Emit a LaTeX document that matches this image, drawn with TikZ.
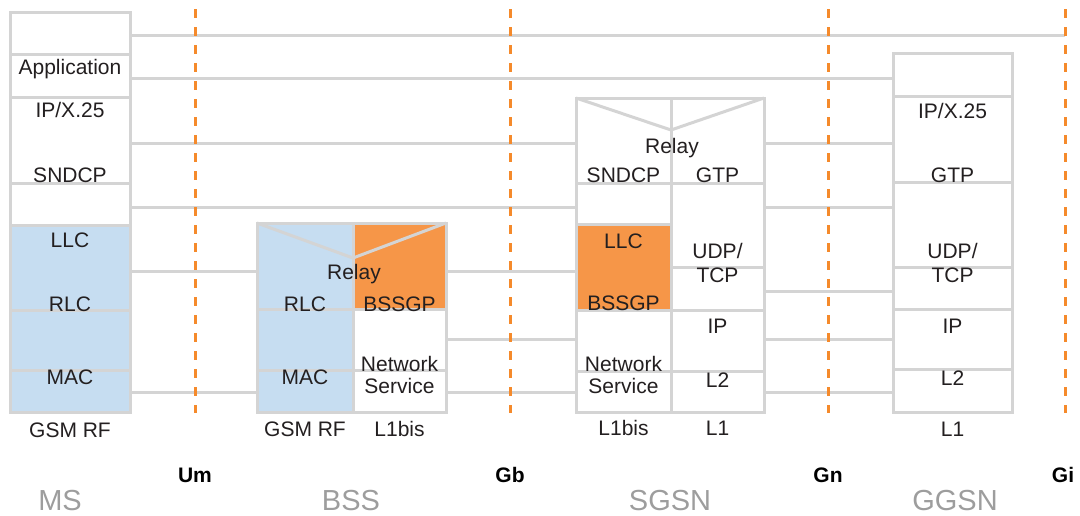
\documentclass[tikz,border=0pt]{standalone}
\usepackage{fontspec}
\setmainfont{Liberation Sans}
\definecolor{lgray}{HTML}{D4D4D4}
\definecolor{dorange}{HTML}{F58A2B}
\definecolor{forange}{HTML}{F69648}
\definecolor{fblue}{HTML}{C6DDF1}
\definecolor{txt}{HTML}{231F20}
\definecolor{negray}{HTML}{9D9D9D}
\newcommand\mkcell[6]{\node[cellnode, fill=#6, minimum width={(#4)-(#2)}, minimum height={(#5)-(#3)}] (#1) at ({((#2)+(#4))/2},{((#3)+(#5))/2}) {};}
\newcommand\bord[1]{\draw[cellline] (#1.north west) rectangle (#1.south east);}
\begin{document}
\begin{tikzpicture}[x=1pt,y=-1pt,
  cellnode/.style={inner sep=0pt, outer sep=0pt, draw=none},
  stackbox/.style={inner sep=0pt, outer sep=0pt, draw=none},
  cellline/.style={draw=lgray, line width=3pt},
  link/.style={draw=lgray, line width=3pt},
  iface/.style={draw=dorange, line width=3pt, dash pattern=on 9pt off 9pt},
  lbl/.style={font=\fontsize{21}{23}\selectfont, text=txt, anchor=base, inner sep=0pt},
  iflbl/.style={font=\bfseries\fontsize{21}{23}\selectfont, text=black, anchor=base, inner sep=0pt},
  nelbl/.style={font=\fontsize{29}{31}\selectfont, text=negray, anchor=base, inner sep=0pt}]
\useasboundingbox (0,0) rectangle (1080,515);

% ---------- stacks (outer frames) ----------
\node[stackbox, minimum width=120, minimum height=400] (ms) at (70,212) {};
\node[stackbox, minimum width=189, minimum height=189] (bss) at (351.5,317.5) {};
\node[stackbox, minimum width=188, minimum height=314] (sgsn) at (670,255) {};
\node[stackbox, minimum width=119, minimum height=359] (ggsn) at (952.5,232.5) {};

% ---------- cells: MS ----------
\mkcell{ms1}{10}{12}{130}{54}{white}
\mkcell{ms2}{10}{54}{130}{97}{white}
\mkcell{ms3}{10}{97}{130}{183}{white}
\mkcell{ms4}{10}{183}{130}{225}{white}
\mkcell{ms5}{10}{225}{130}{310}{fblue}
\mkcell{ms6}{10}{310}{130}{370}{fblue}
\mkcell{ms7}{10}{370}{130}{412}{fblue}
% ---------- cells: BSS ----------
\mkcell{bl1}{257}{223}{353}{309}{fblue}
\mkcell{bl2}{257}{309}{353}{370}{fblue}
\mkcell{bl3}{257}{370}{353}{412}{fblue}
\mkcell{br1}{353}{223}{446}{309}{forange}
\mkcell{br2}{353}{309}{446}{370}{white}
\mkcell{br3}{353}{370}{446}{412}{white}
% ---------- cells: SGSN ----------
\mkcell{sl1}{576}{98}{671}{183}{white}
\mkcell{sl2}{576}{183}{671}{224}{white}
\mkcell{sl3}{576}{224}{671}{310}{forange}
\mkcell{sl4}{576}{310}{671}{371}{white}
\mkcell{sl5}{576}{371}{671}{412}{white}
\mkcell{sr1}{671}{98}{764}{183}{white}
\mkcell{sr2}{671}{183}{764}{267}{white}
\mkcell{sr3}{671}{267}{764}{310}{white}
\mkcell{sr4}{671}{310}{764}{371}{white}
\mkcell{sr5}{671}{371}{764}{412}{white}
% ---------- cells: GGSN ----------
\mkcell{g1}{893}{53}{1012}{96}{white}
\mkcell{g2}{893}{96}{1012}{182}{white}
\mkcell{g3}{893}{182}{1012}{267}{white}
\mkcell{g4}{893}{267}{1012}{309}{white}
\mkcell{g5}{893}{309}{1012}{369}{white}
\mkcell{g6}{893}{369}{1012}{412}{white}

% ---------- relay V shapes ----------
\coordinate (bssV) at (353,258);
\coordinate (sgV) at (671,130);
\draw[cellline] (bl1.north west) -- (bssV) -- (br1.north east);
\draw[cellline] (sl1.north west) -- (sgV) -- (sr1.north east);

% ---------- borders ----------
\foreach \c in {ms1,ms2,ms3,ms4,ms5,ms6,ms7,bl1,bl2,bl3,br1,br2,br3,
  sl1,sl2,sl3,sl4,sl5,sr1,sr2,sr3,sr4,sr5,g1,g2,g3,g4,g5,g6}{\bord{\c}}

% ---------- level coordinates ----------
\foreach \y in {35,78,143,207,271,291,339,392}{\coordinate (y\y) at (0,\y);}
\coordinate (giTop) at (1065,9);
\coordinate (giBot) at (1065,413);

% ---------- peer links ----------
\draw[link] (ms.east |- y35) -- (giTop |- y35);
\draw[link] (ms.east |- y78) -- (ggsn.west |- y78);
\draw[link] (ms.east |- y143) -- (sgsn.west |- y143);
\draw[link] (ms.east |- y207) -- (sgsn.west |- y207);
\draw[link] (ms.east |- y271) -- (bss.west |- y271);
\draw[link] (ms.east |- y392) -- (bss.west |- y392);
\draw[link] (bss.east |- y271) -- (sgsn.west |- y271);
\draw[link] (bss.east |- y339) -- (sgsn.west |- y339);
\draw[link] (bss.east |- y392) -- (sgsn.west |- y392);
\draw[link] (sgsn.east |- y143) -- (ggsn.west |- y143);
\draw[link] (sgsn.east |- y207) -- (ggsn.west |- y207);
\draw[link] (sgsn.east |- y291) -- (ggsn.west |- y291);
\draw[link] (sgsn.east |- y339) -- (ggsn.west |- y339);
\draw[link] (sgsn.east |- y392) -- (ggsn.west |- y392);

% ---------- interfaces ----------
\coordinate (umTop) at (195,9);  \coordinate (umBot) at (195,413);
\coordinate (gbTop) at (510,9);  \coordinate (gbBot) at (510,413);
\coordinate (gnTop) at (828,9);  \coordinate (gnBot) at (828,413);
\draw[iface] (umTop) -- (umBot);
\draw[iface] (gbTop) -- (gbBot);
\draw[iface] (gnTop) -- (gnBot);
\draw[iface] (giTop) -- (giBot);

% ---------- texts: MS ----------
\node[lbl] (tApp) at (70,74) {Application};
\node[lbl] (tMsIP) at (70,117) {IP/X.25};
\node[lbl] (tMsSnd) at (70,182) {SNDCP};
\node[lbl] (tMsLLC) at (70,247) {LLC};
\node[lbl] (tMsRLC) at (70,311) {RLC};
\node[lbl] (tMsMAC) at (70,384) {MAC};
\node[lbl] (tMsRF) at (70,437) {GSM RF};
% ---------- texts: BSS ----------
\node[lbl] (tBRelay) at (354,279) {Relay};
\node[lbl] (tBRLC) at (305,311) {RLC};
\node[lbl] (tBBssgp) at (399.5,311) {BSSGP};
\node[lbl] (tBNet1) at (399.5,371) {Network};
\node[lbl] (tBNet2) at (399.5,393) {Service};
\node[lbl] (tBMAC) at (305,384) {MAC};
\node[lbl] (tBRF) at (305,436) {GSM RF};
\node[lbl] (tBL1) at (399.5,436) {L1bis};
% ---------- texts: SGSN ----------
\node[lbl] (tSRelay) at (672,153) {Relay};
\node[lbl] (tSSnd) at (623.5,182) {SNDCP};
\node[lbl] (tSGtp) at (717.5,182) {GTP};
\node[lbl] (tSLLC) at (623.5,248) {LLC};
\node[lbl] (tSBssgp) at (623.5,310) {BSSGP};
\node[lbl] (tSUdp) at (717.5,258) {UDP/};
\node[lbl] (tSTcp) at (717.5,282) {TCP};
\node[lbl] (tSIP) at (717.5,333) {IP};
\node[lbl] (tSNet1) at (623.5,371) {Network};
\node[lbl] (tSNet2) at (623.5,393) {Service};
\node[lbl] (tSL2) at (717.5,387) {L2};
\node[lbl] (tSL1b) at (623.5,435) {L1bis};
\node[lbl] (tSL1) at (717.5,435) {L1};
% ---------- texts: GGSN ----------
\node[lbl] (tGIP) at (952.5,118) {IP/X.25};
\node[lbl] (tGGtp) at (952.5,182) {GTP};
\node[lbl] (tGUdp) at (952.5,258) {UDP/};
\node[lbl] (tGTcp) at (952.5,282) {TCP};
\node[lbl] (tGIP2) at (952.5,333) {IP};
\node[lbl] (tGL2) at (952.5,385) {L2};
\node[lbl] (tGL1) at (952.5,436) {L1};

% ---------- interface and element labels ----------
\node[iflbl] (lUm) at (195,482) {Um};
\node[iflbl] (lGb) at (510,482) {Gb};
\node[iflbl] (lGn) at (828,482) {Gn};
\node[iflbl] (lGi) at (1063,482) {Gi};
\node[nelbl] (lMS) at (60,510) {MS};
\node[nelbl] (lBSS) at (351,510) {BSS};
\node[nelbl] (lSGSN) at (670,510) {SGSN};
\node[nelbl] (lGGSN) at (955,510) {GGSN};
\end{tikzpicture}
\end{document}
